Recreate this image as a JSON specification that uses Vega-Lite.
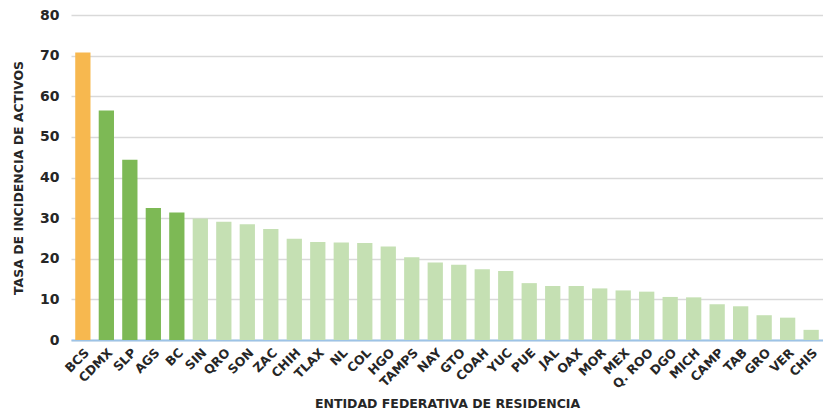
{
  "$schema": "https://vega.github.io/schema/vega-lite/v6.json",
  "width": 823,
  "height": 413,
  "autosize": {"type": "fit", "contains": "padding"},
  "padding": {"left": 12, "top": 8, "right": 0, "bottom": 2},
  "background": "white",
  "config": {"view": {"stroke": null}, "font": "DejaVu Sans"},
  "data": {"values": [
    {"estado": "BCS", "tasa": 70.8, "grupo": "a"},
    {"estado": "CDMX", "tasa": 56.5, "grupo": "b"},
    {"estado": "SLP", "tasa": 44.4, "grupo": "b"},
    {"estado": "AGS", "tasa": 32.5, "grupo": "b"},
    {"estado": "BC", "tasa": 31.4, "grupo": "b"},
    {"estado": "SIN", "tasa": 29.9, "grupo": "c"},
    {"estado": "QRO", "tasa": 29.1, "grupo": "c"},
    {"estado": "SON", "tasa": 28.5, "grupo": "c"},
    {"estado": "ZAC", "tasa": 27.3, "grupo": "c"},
    {"estado": "CHIH", "tasa": 24.9, "grupo": "c"},
    {"estado": "TLAX", "tasa": 24.1, "grupo": "c"},
    {"estado": "NL", "tasa": 24.0, "grupo": "c"},
    {"estado": "COL", "tasa": 23.9, "grupo": "c"},
    {"estado": "HGO", "tasa": 23.0, "grupo": "c"},
    {"estado": "TAMPS", "tasa": 20.4, "grupo": "c"},
    {"estado": "NAY", "tasa": 19.1, "grupo": "c"},
    {"estado": "GTO", "tasa": 18.5, "grupo": "c"},
    {"estado": "COAH", "tasa": 17.4, "grupo": "c"},
    {"estado": "YUC", "tasa": 17.0, "grupo": "c"},
    {"estado": "PUE", "tasa": 14.0, "grupo": "c"},
    {"estado": "JAL", "tasa": 13.3, "grupo": "c"},
    {"estado": "OAX", "tasa": 13.3, "grupo": "c"},
    {"estado": "MOR", "tasa": 12.7, "grupo": "c"},
    {"estado": "MEX", "tasa": 12.2, "grupo": "c"},
    {"estado": "Q. ROO", "tasa": 11.9, "grupo": "c"},
    {"estado": "DGO", "tasa": 10.6, "grupo": "c"},
    {"estado": "MICH", "tasa": 10.5, "grupo": "c"},
    {"estado": "CAMP", "tasa": 8.8, "grupo": "c"},
    {"estado": "TAB", "tasa": 8.3, "grupo": "c"},
    {"estado": "GRO", "tasa": 6.1, "grupo": "c"},
    {"estado": "VER", "tasa": 5.5, "grupo": "c"},
    {"estado": "CHIS", "tasa": 2.5, "grupo": "c"}
  ]},
  "mark": {"type": "bar"},
  "encoding": {
    "x": {
      "field": "estado", "type": "nominal", "sort": null,
      "scale": {"paddingInner": 0.35, "paddingOuter": 0.18},
      "axis": {
        "title": "ENTIDAD FEDERATIVA DE RESIDENCIA",
        "titleFontSize": 12.5, "titleFontWeight": "bold", "titleColor": "#262626", "titlePadding": 7,
        "labelAngle": -45, "labelFontSize": 12.5, "labelFontWeight": "bold", "labelColor": "#262626",
        "labelPadding": 6, "ticks": false, "domainColor": "#9DC3E6", "domainWidth": 2
      }
    },
    "y": {
      "field": "tasa", "type": "quantitative",
      "scale": {"domain": [0, 80]},
      "axis": {
        "title": "TASA DE INCIDENCIA DE ACTIVOS",
        "titleFontSize": 12.5, "titleFontWeight": "bold", "titleColor": "#262626", "titlePadding": 14,
        "values": [0, 10, 20, 30, 40, 50, 60, 70, 80],
        "labelFontSize": 14, "labelFontWeight": "bold", "labelColor": "#262626", "labelPadding": 12,
        "ticks": false, "domain": false, "gridColor": "#D9D9D9", "gridWidth": 1.5
      }
    },
    "color": {
      "field": "grupo", "type": "nominal", "legend": null,
      "scale": {"domain": ["a", "b", "c"], "range": ["#F7B84F", "#7DB955", "#C5E0B3"]}
    }
  }
}
